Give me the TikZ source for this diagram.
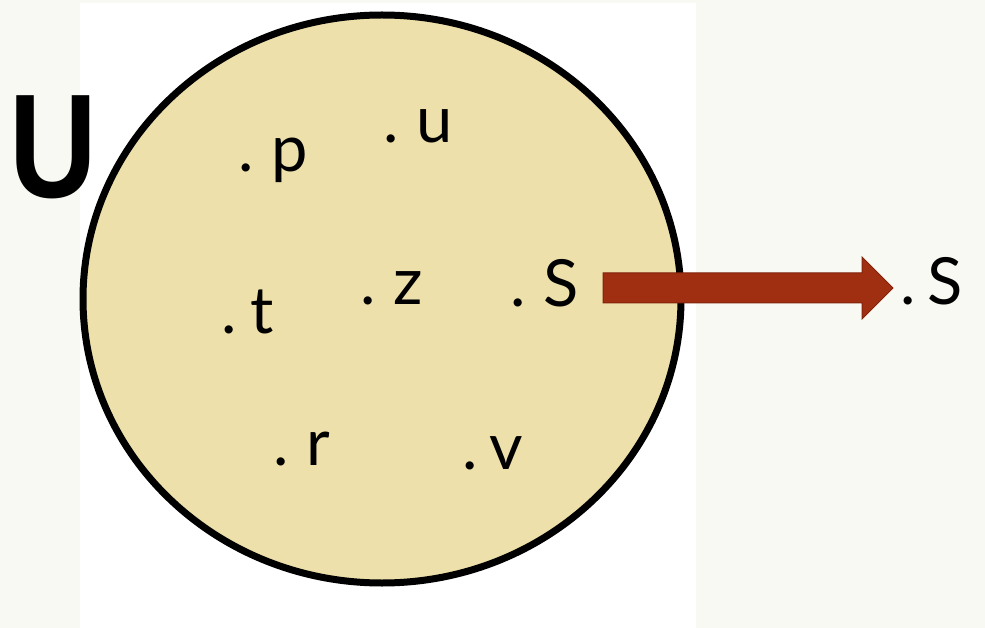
\documentclass[tikz,border=0pt]{standalone}
\usepackage{fontspec}
\setmainfont{Lato}
\newfontfamily\ufont{Liberation Sans}
\definecolor{bgtint}{RGB}{247,249,242}
\definecolor{setfill}{RGB}{238,224,170}
\definecolor{arrowred}{RGB}{160,46,16}
\definecolor{arrowedge}{RGB}{130,36,12}
\tikzset{
  elem/.style={anchor=base west, inner sep=0pt, font=\fontsize{65}{65}\selectfont, text=black},
}
\begin{document}
\begin{tikzpicture}[x=1pt,y=-1pt]
\useasboundingbox (0,0) rectangle (985,628);
\fill[bgtint] (0,0) rectangle (985,628);
\fill[white] (80,3) rectangle (696,628);
% the set
\draw[line width=7pt, fill=setfill] (382,299) ellipse [x radius=299, y radius=284];
% universe label
\node[anchor=base west, inner sep=0pt, font=\ufont\bfseries\fontsize{148}{148}\selectfont, xscale=0.82] (U) at (9,198) {U};
% elements
\node[elem] (p) at (238,172) {.\kern18pt p};
\node[elem] (u) at (383,143) {.\kern18pt u};
\node[elem] (t) at (221,334) {.\kern14pt t};
\node[elem] (z) at (360,305) {.\kern18pt z};
\node[elem] (s) at (510,307) {.\kern18pt S};
\node[elem] (r) at (273,465) {.\kern18pt r};
\node[elem] (v) at (462,469) {.\kern12pt v};
\node[elem] (s2) at (900,305) {.\kern12pt S};
% block arrow
\draw[arrowedge, fill=arrowred, line width=1pt, line join=miter]
  (603,273) -- (862,273) -- (862,257) -- (893,288) -- (862,319) -- (862,303) -- (603,303) -- cycle;
\end{tikzpicture}
\end{document}
